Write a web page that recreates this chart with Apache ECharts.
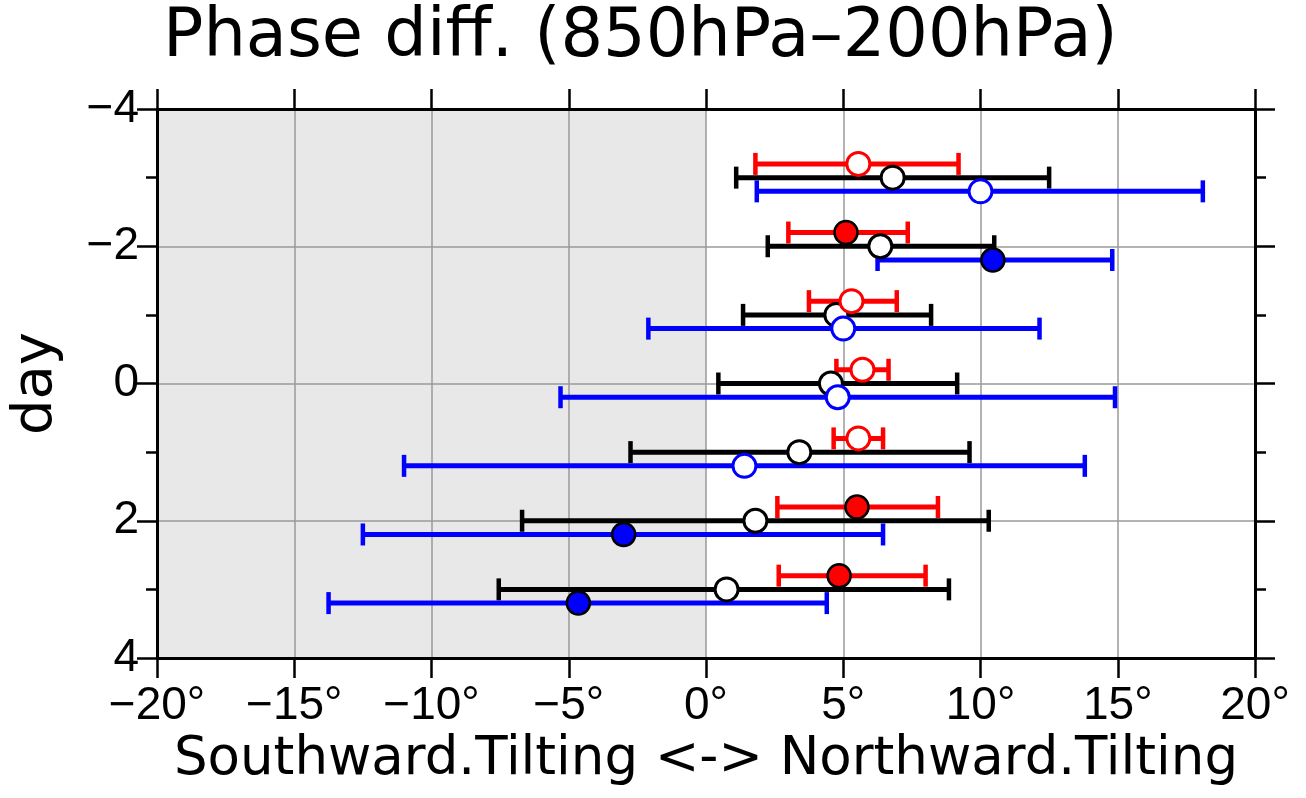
<!DOCTYPE html>
<html>
<head>
<meta charset="utf-8">
<script src="https://cdn.jsdelivr.net/npm/echarts@6/dist/echarts.min.js"></script>
<style>
  html, body { margin: 0; padding: 0; background: #fff; }
  #chart-container { width: 1306px; height: 798px; }
</style>
</head>
<body>
<div id="chart-container"></div>
<script>
// day of each row (y axis, drawn top to bottom)
const days = [-3, -2, -1, 0, 1, 2, 3];

// red: centre value, range ends, filled (significant) or hollow
const redMean = [5.55, 5.1, 5.3, 5.7, 5.55, 5.5, 4.85];
const redLow  = [1.8, 3.0, 3.75, 4.75, 4.65, 2.6, 2.65];
const redHigh = [9.2, 7.35, 6.95, 6.65, 6.45, 8.45, 8.0];
const redFill = [false, true, false, false, false, true, true];

// black
const blackMean = [6.8, 6.35, 4.75, 4.55, 3.4, 1.8, 0.75];
const blackLow  = [1.1, 2.25, 1.35, 0.45, -2.75, -6.7, -7.55];
const blackHigh = [12.5, 10.5, 8.2, 9.15, 9.6, 10.3, 8.85];
const blackFill = [false, false, false, false, false, false, false];

// blue
const blueMean = [10.0, 10.45, 5.0, 4.8, 1.4, -3.0, -4.65];
const blueLow  = [1.85, 6.25, -2.1, -5.3, -11.0, -12.5, -13.75];
const blueHigh = [18.1, 14.8, 12.15, 14.9, 13.8, 6.45, 4.4];
const blueFill = [false, true, false, false, false, true, true];

// x ticks and the shaded (southward) half
const xTicks = [-20, -15, -10, -5, 0, 5, 10, 15, 20];
const yTicks = [-4, -2, 0, 2, 4];
const shadeRange = [-20, 0];

const chartContainer = document.getElementById('chart-container');
const myChart = echarts.init(chartContainer, null, { renderer: 'canvas' });

const FONT = 'DejaVu Sans';
const TICKFONT = 'Liberation Sans';

function minus(v) {
  return v < 0 ? '\u2212' + Math.abs(v) : String(v);
}

function barSeries(name, color, offset, low, high) {
  return {
    name: name,
    type: 'custom',
    z: 3,
    silent: true,
    encode: { x: [1, 2], y: 0 },
    data: days.map((d, i) => [d, low[i], high[i]]),
    renderItem: function (params, api) {
      const y = api.value(0) + offset;
      const a = api.coord([api.value(1), y]);
      const b = api.coord([api.value(2), y]);
      const cap = 11;
      const st = { stroke: color, lineWidth: 5 };
      return {
        type: 'group',
        children: [
          { type: 'line', shape: { x1: a[0], y1: a[1], x2: b[0], y2: b[1] }, style: st },
          { type: 'line', shape: { x1: a[0], y1: a[1] - cap, x2: a[0], y2: a[1] + cap }, style: { stroke: color, lineWidth: 4.5 } },
          { type: 'line', shape: { x1: b[0], y1: b[1] - cap, x2: b[0], y2: b[1] + cap }, style: { stroke: color, lineWidth: 4.5 } }
        ]
      };
    }
  };
}

function dotSeries(name, color, offset, mean, fill, z) {
  return {
    name: name,
    type: 'scatter',
    z: z,
    silent: true,
    symbol: 'circle',
    symbolSize: 23,
    data: days.map((d, i) => ({
      value: [mean[i], d + offset],
      itemStyle: fill[i]
        ? { color: color, opacity: 1, borderColor: '#000', borderWidth: 2.5 }
        : { color: '#fff', opacity: 1, borderColor: color, borderWidth: 3 }
    }))
  };
}

const axisLine = { show: true, onZero: false, lineStyle: { color: '#000', width: 3 } };
const tick = { show: true, inside: false, length: 20, lineStyle: { color: '#000', width: 2.5 } };
const minor = { show: true, splitNumber: 2, length: 11, lineStyle: { color: '#000', width: 2.5 } };
const grid = { show: true, lineStyle: { color: '#9a9a9a', width: 1.5 } };

const blackDots = dotSeries('black', '#000', 0, blackMean, blackFill, 4);
blackDots.markArea = {
  silent: true,
  z: 0,
  itemStyle: { color: '#e8e8e8' },
  data: [[{ xAxis: shadeRange[0] }, { xAxis: shadeRange[1] }]]
};

let option = {
  backgroundColor: '#fff',
  animation: false,
  title: {
    text: 'Phase diff. (850hPa\u2013200hPa)',
    left: 158,
    top: 0,
    textStyle: { fontFamily: FONT, fontSize: 67, fontWeight: 'normal', color: '#000' }
  },
  grid: { left: 157, right: 51, top: 109, bottom: 140 },
  xAxis: [
    {
      type: 'value', position: 'bottom', z: 1,
      min: xTicks[0], max: xTicks[xTicks.length - 1], interval: 5,
      axisLine: axisLine, axisTick: tick, splitLine: grid,
      axisLabel: {
        margin: 25, fontFamily: TICKFONT, fontSize: 46, color: '#000',
        formatter: v => minus(v) + '\u00b0'
      },
      name: 'Southward.Tilting <-> Northward.Tilting',
      nameLocation: 'middle', nameGap: 76,
      nameTextStyle: { fontFamily: FONT, fontSize: 53, color: '#000' }
    },
    {
      type: 'value', position: 'top', z: 1,
      min: xTicks[0], max: xTicks[xTicks.length - 1], interval: 5,
      axisLine: axisLine, axisTick: tick,
      axisLabel: { show: false }, splitLine: { show: false }
    }
  ],
  yAxis: [
    {
      type: 'value', position: 'left', inverse: true, z: 1,
      min: yTicks[0], max: yTicks[yTicks.length - 1], interval: 2,
      axisLine: axisLine, axisTick: tick, minorTick: minor, splitLine: grid,
      axisLabel: {
        margin: 18, fontFamily: TICKFONT, fontSize: 46, color: '#000',
        formatter: v => minus(v)
      },
      name: 'day', nameLocation: 'middle', nameGap: 93,
      nameTextStyle: { fontFamily: FONT, fontSize: 56, color: '#000' }
    },
    {
      type: 'value', position: 'right', inverse: true, z: 1,
      min: yTicks[0], max: yTicks[yTicks.length - 1], interval: 2,
      axisLine: axisLine, axisTick: tick, minorTick: minor,
      axisLabel: { show: false }, splitLine: { show: false }
    }
  ],
  series: [
    barSeries('black bar', '#000', 0, blackLow, blackHigh),
    barSeries('red bar', '#ff0000', -0.2, redLow, redHigh),
    barSeries('blue bar', '#0000ff', 0.2, blueLow, blueHigh),
    blackDots,
    dotSeries('red', '#ff0000', -0.2, redMean, redFill, 5),
    dotSeries('blue', '#0000ff', 0.2, blueMean, blueFill, 5)
  ]
};

if (option && typeof option === 'object') {
  myChart.setOption(option);
}
window.addEventListener('resize', myChart.resize);
</script>
</body>
</html>
